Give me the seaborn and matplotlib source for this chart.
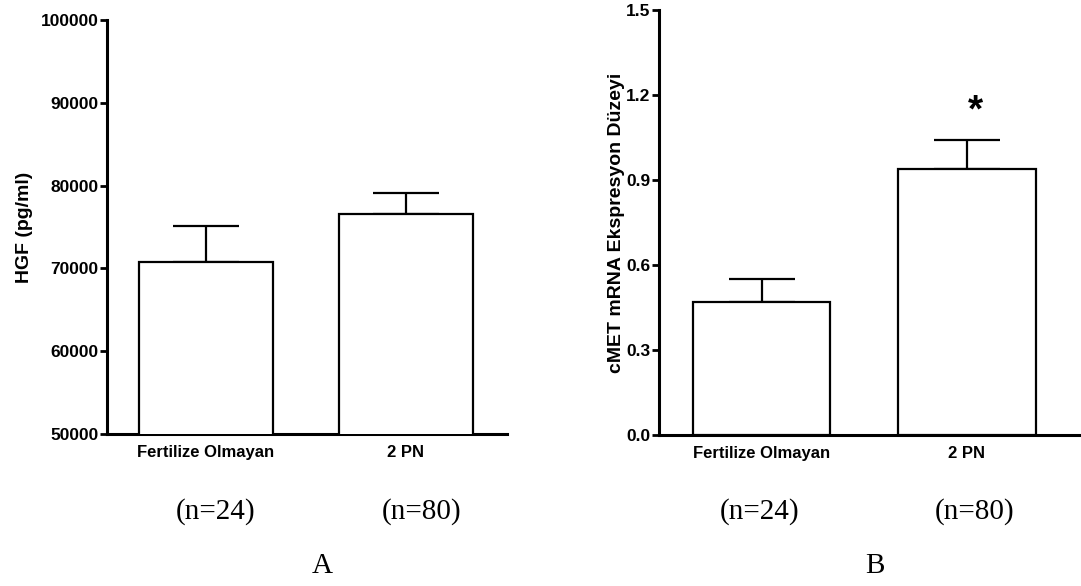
import matplotlib
matplotlib.use("Agg")
import matplotlib.pyplot as plt
import seaborn as sns
import pandas as pd

sns.set_style("white")
plt.rcParams['font.family'] = ['Liberation Sans', 'DejaVu Sans']
plt.rcParams['text.color'] = 'black'
plt.rcParams['axes.labelcolor'] = 'black'
plt.rcParams['xtick.color'] = 'black'
plt.rcParams['ytick.color'] = 'black'

# data
groups = ['Fertilize Olmayan', '2 PN']
n_labels = ['(n=24)', '(n=80)']
hgf_mean = [70800, 76600]
hgf_sem = [4300, 2500]
cmet_mean = [0.47, 0.94]
cmet_sem = [0.08, 0.10]
hgf_ticks = [50000, 60000, 70000, 80000, 90000, 100000]
cmet_ticks = [0.0, 0.3, 0.6, 0.9, 1.2, 1.5]
panel_letters = ['A', 'B']

fig = plt.figure(figsize=(10.81, 5.86), dpi=100)
ax1 = fig.add_axes([0.099, 0.2594, 0.370, 0.7065])
ax2 = fig.add_axes([0.6096, 0.2577, 0.3904, 0.7253])


def draw_panel(ax, means, sems, ticks, ylabel, xlim):
    df = pd.DataFrame({'grup': groups, 'deger': means})
    sns.barplot(data=df, x='grup', y='deger', color='white', edgecolor='black',
                linewidth=1.6, width=0.67, errorbar=None, ax=ax, zorder=3)
    ax.errorbar(range(len(means)), means, yerr=[[0] * len(sems), sems], fmt='none',
                ecolor='black', elinewidth=1.6, capsize=24, capthick=1.6, zorder=2)
    ax.set_ylim(ticks[0], ticks[-1])
    ax.set_yticks(ticks)
    ax.set_xlim(*xlim)
    ax.set_xlabel('')
    ax.set_ylabel(ylabel, fontsize=14, fontweight='bold')
    for s in ['top', 'right']:
        ax.spines[s].set_visible(False)
    for s in ['left', 'bottom']:
        ax.spines[s].set_linewidth(2.2)
        ax.spines[s].set_color('black')
    ax.tick_params(axis='y', direction='out', length=5, width=2, left=True,
                   labelsize=12.5, pad=1)
    ax.tick_params(axis='x', length=0, labelsize=12, pad=8)
    for lab in ax.get_xticklabels() + ax.get_yticklabels():
        lab.set_fontweight('bold')


draw_panel(ax1, hgf_mean, hgf_sem, hgf_ticks, 'HGF (pg/ml)', (-0.495, 1.505))
ax1.yaxis.set_label_coords(-0.185, 0.5)

draw_panel(ax2, cmet_mean, cmet_sem, cmet_ticks,
           'cMET mRNA Ekspresyon Düzeyi', (-0.499, 1.555))
ax2.yaxis.set_label_coords(-0.081, 0.5)
ax2.set_yticklabels([f'{t:.1f}' for t in cmet_ticks])

# significance mark above 2 PN
ax2.text(1.04, cmet_mean[1] + cmet_sem[1] + 0.1, '*', ha='center', va='center',
         fontsize=28, fontweight='bold')

# sample sizes and panel letters below the axes
serif = ['Liberation Serif', 'DejaVu Serif']
n_x = [[0.199, 0.390], [0.703, 0.902]]
for xs in n_x:
    for x, t in zip(xs, n_labels):
        fig.text(x, 1 - 512 / 586, t, ha='center', va='center', fontsize=21,
                 family=serif)
for x, t in zip([0.298, 0.809], panel_letters):
    fig.text(x, 1 - 566 / 586, t, ha='center', va='center', fontsize=21,
             family=serif)

fig.savefig('out.png', dpi=100)
